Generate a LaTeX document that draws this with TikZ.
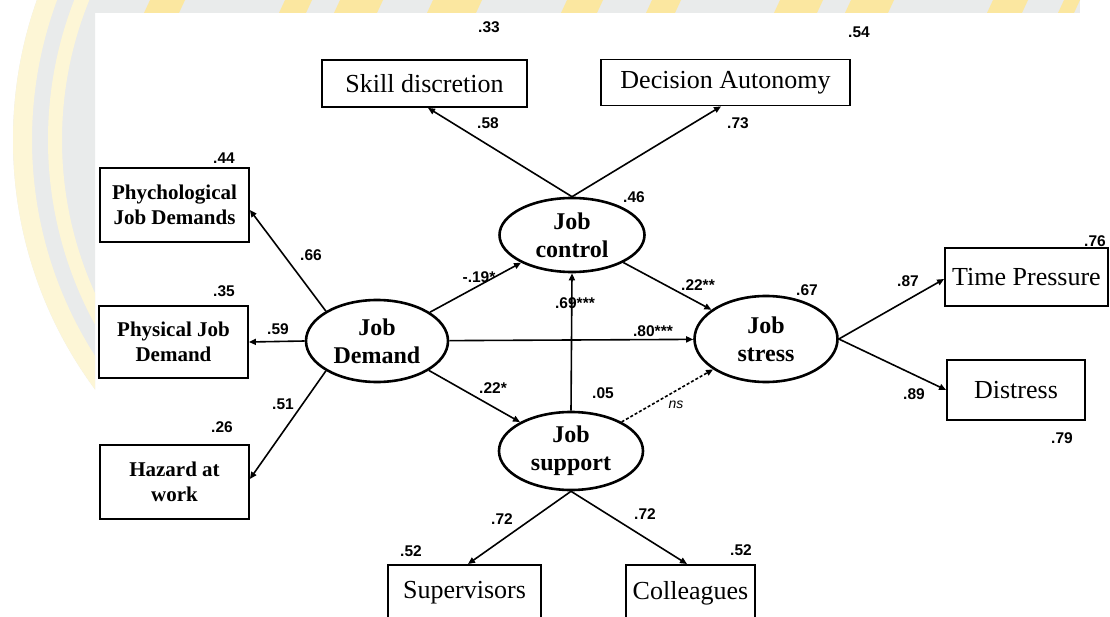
\documentclass[tikz,border=0pt]{standalone}
\usepackage{fontspec}
\setmainfont{Liberation Serif}
\setsansfont{Liberation Sans}
\usetikzlibrary{arrows.meta,calc,shapes.geometric}

\definecolor{wmgray}{HTML}{E9EBEB}
\definecolor{wmpale}{HTML}{FDF6D6}
\definecolor{wmgold}{HTML}{FBE7A0}

\begin{document}
\begin{tikzpicture}[x=1pt,y=-1pt,
  box/.style={draw=black,line width=1.8pt,inner sep=0pt,align=center,
    font=\fontsize{26}{30}\selectfont},
  lbox/.style={box,font=\bfseries\fontsize{21}{25}\selectfont},
  latent/.style={ellipse,draw=black,line width=2.6pt,inner sep=0pt,align=center,
    font=\bfseries\fontsize{24}{28}\selectfont},
  coef/.style={font=\sffamily\bfseries\fontsize{15.5}{18}\selectfont,inner sep=0pt},
  nscoef/.style={font=\sffamily\itshape\fontsize{14}{16}\selectfont,inner sep=0pt},
  path/.style={line width=1.6pt,-{Triangle[length=7pt,width=6pt]}},
  npath/.style={path,dash pattern=on 3pt off 2pt},
]
\clip (0,0) rectangle (1110,617);
\fill[white] (0,0) rectangle (1110,617);

% emblem rings in the left margin
\begin{scope}
  \clip (0,0) rectangle (95,617);
  \fill[wmgray] (433,140) circle[radius=420pt];
  \fill[wmpale,even odd rule] (433,140) circle[radius=420pt] circle[radius=401pt];
  \fill[wmpale,even odd rule] (433,140) circle[radius=385pt] circle[radius=371pt];
\end{scope}

% lettering band along the top
\fill[wmgray] (95,0) rectangle (1080,13);
\foreach \a/\b in {150/185,285/312,340/383,433/482,567/603,652/681,780/823,851/894,993/1028,1064/1080}
  \fill[wmgold] (\a,0) -- (\b,0) -- (\b-6,13) -- (\a-6,13) -- cycle;

% observed indicators
\node[box,minimum width=205pt,minimum height=47pt] (sd) at (424.5,83.5) {Skill discretion};
\node[box,minimum width=249pt,minimum height=46pt] (da) at (725.5,82.5) {Decision Autonomy};
\node[lbox,minimum width=149pt,minimum height=74pt] (pj) at (174.5,205) {Phychological\\Job Demands};
\node[lbox,minimum width=149pt,minimum height=72pt] (pd) at (173.5,342) {Physical Job\\Demand};
\node[lbox,minimum width=149pt,minimum height=74pt] (hz) at (174.5,482) {Hazard at\\work};
\node[box,minimum width=163pt,minimum height=58pt] (tp) at (1026.5,277) {Time Pressure};
\node[box,minimum width=138pt,minimum height=60pt] (di) at (1016,390) {Distress};
\node[box,minimum width=153pt,minimum height=56pt,anchor=north] (sup) at (464.5,564) {Supervisors};
\node[box,minimum width=129pt,minimum height=56pt,anchor=north] (col) at (690.5,564) {Colleagues};

% latent constructs
\node[latent,minimum width=145pt,minimum height=74pt] (jc) at (572,235) {Job\\control};
\node[latent,minimum width=142pt,minimum height=82pt] (jd) at (377,341) {Job\\Demand};
\node[latent,minimum width=143pt,minimum height=86pt] (js) at (766,339) {Job\\stress};
\node[latent,minimum width=144pt,minimum height=78pt] (jsu) at (571,451) {Job\\support};

% loadings
\draw[path] (jc.north) -- ($(sd.south)+(3.5,0)$);
\draw[path] (jc.north) -- ($(da.south)+(-4.5,0)$);
\draw[path] (jd.north west) -- ($(pj.east)+(0,5)$);
\draw[path] (jd.west) -- (pd.east);
\draw[path] (jd.south west) -- ($(hz.east)+(0,-3)$);
\draw[path] (js.east) -- ($(tp.west)+(0,2)$);
\draw[path] (js.east) -- (di.west);
\draw[path] (jsu.south) -- ($(sup.north)+(3.5,0)$);
\draw[path] (jsu.south) -- ($(col.north)+(-3.5,0)$);

% structural paths
\draw[path] (jd) -- (jc);
\draw[path] (jd) -- (js);
\draw[path] (jd) -- (jsu);
\draw[path] (jc) -- (js);
\draw[path] (jsu.north) -- (jc.south);
\draw[npath] (jsu) -- (js);

% coefficients
\node[coef] (c33) at (489,27) {.33};
\node[coef] (c54) at (859,32) {.54};
\node[coef] (c58) at (488,123) {.58};
\node[coef] (c73) at (738,123) {.73};
\node[coef] (c46) at (634,197) {.46};
\node[coef] (c44) at (224,158) {.44};
\node[coef] (c66) at (311,255) {.66};
\node[coef] (c35) at (224,291) {.35};
\node[coef] (c59) at (278,329) {.59};
\node[coef] (c51) at (283,404) {.51};
\node[coef] (c26) at (222,427) {.26};
\node[coef] (c19) at (479,277) {-.19*};
\node[coef] (c69) at (575,303) {.69***};
\node[coef] (c22a) at (698,285) {.22**};
\node[coef] (c80) at (653,331) {.80***};
\node[coef] (c22b) at (493,388) {.22*};
\node[coef] (c05) at (603,393) {.05};
\node[nscoef] (cns) at (676,405) {ns};
\node[coef] (c67) at (807,290) {.67};
\node[coef] (c87) at (908,281) {.87};
\node[coef] (c89) at (914,394) {.89};
\node[coef] (c76) at (1095,241) {.76};
\node[coef] (c79) at (1062,438) {.79};
\node[coef] (c72a) at (502,519) {.72};
\node[coef] (c72b) at (645,514) {.72};
\node[coef] (c52a) at (411,551) {.52};
\node[coef] (c52b) at (741,550) {.52};
\end{tikzpicture}
\end{document}
